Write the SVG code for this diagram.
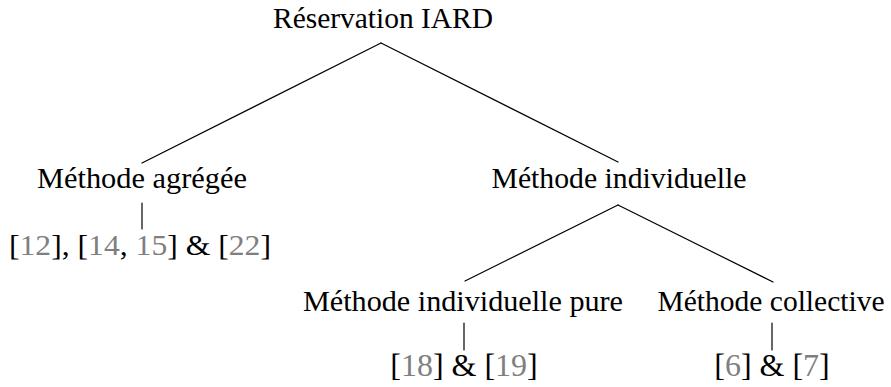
<svg xmlns="http://www.w3.org/2000/svg" width="891" height="387" viewBox="0 0 891 387">
<style>
text{font-family:"Liberation Serif","Times New Roman",serif;font-size:30px;fill:#000;text-anchor:middle}
.r{font-size:32px}
.c{fill:#7f7f7f}
.e{stroke:#000;stroke-width:1.2;fill:none;stroke-linecap:round}
</style>
<rect width="891" height="387" fill="#fff"/>
<g id="connectors">
<line class="e" x1="381" y1="43" x2="142" y2="163"/>
<line class="e" x1="381" y1="43" x2="618" y2="162"/>
<line class="e" x1="142" y1="203" x2="142" y2="229"/>
<line class="e" x1="618" y1="205" x2="465" y2="281"/>
<line class="e" x1="618" y1="205" x2="773" y2="282"/>
<line class="e" x1="464" y1="323" x2="464" y2="350"/>
<line class="e" x1="772" y1="323" x2="772" y2="350"/>
</g>
<g id="root"><text x="383" y="28" textLength="220" lengthAdjust="spacingAndGlyphs">Réservation IARD</text></g>
<g id="agregee"><text x="142" y="188" textLength="210" lengthAdjust="spacingAndGlyphs">Méthode agrégée</text></g>
<g id="agregee-refs"><text x="140" y="255" textLength="262" lengthAdjust="spacingAndGlyphs">[<tspan class="c">12</tspan>], [<tspan class="c">14</tspan>, <tspan class="c">15</tspan>] &amp; [<tspan class="c">22</tspan>]</text></g>
<g id="individuelle"><text x="619" y="188" textLength="255" lengthAdjust="spacingAndGlyphs">Méthode individuelle</text></g>
<g id="pure"><text x="463" y="311" textLength="320" lengthAdjust="spacingAndGlyphs">Méthode individuelle pure</text></g>
<g id="collective"><text x="771" y="311" textLength="227" lengthAdjust="spacingAndGlyphs">Méthode collective</text></g>
<g id="pure-refs"><text class="r" x="464" y="376">[<tspan class="c">18</tspan>] &amp; [<tspan class="c">19</tspan>]</text></g>
<g id="collective-refs"><text class="r" x="772" y="376">[<tspan class="c">6</tspan>] &amp; [<tspan class="c">7</tspan>]</text></g>
</svg>
